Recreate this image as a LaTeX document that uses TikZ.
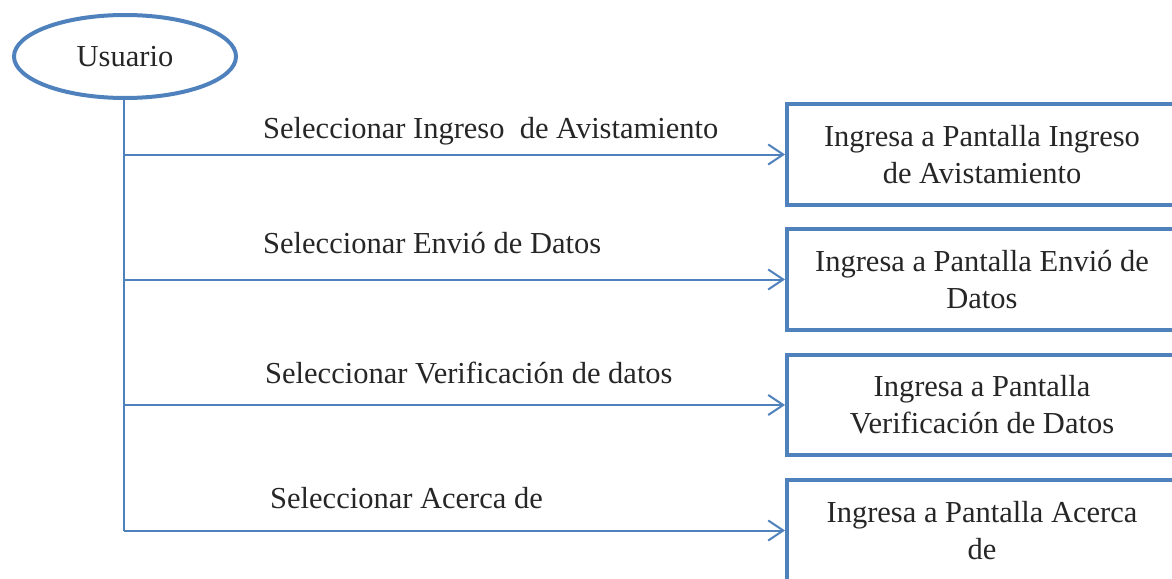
\documentclass[tikz,border=0pt]{standalone}
\usepackage{fontspec}
\setmainfont{Liberation Serif}
\usetikzlibrary{arrows.meta,shapes.geometric}
\definecolor{diagblue}{RGB}{79,129,189}
\definecolor{txt}{RGB}{38,38,38}
\tikzset{
  actor/.style={ellipse, draw=diagblue, line width=4pt, minimum width=222pt, minimum height=83pt, inner sep=0pt, text=txt, font=\fontsize{30.5}{37}\selectfont},
  screen/.style={rectangle, draw=diagblue, line width=4pt, minimum width=390pt, minimum height=101pt, inner sep=0pt, align=center, text=txt, font=\fontsize{30.5}{37}\selectfont},
  conn/.style={draw=diagblue, line width=2pt},
  flow/.style={conn, -{Straight Barb[length=15pt,width=20pt]}},
  lbl/.style={anchor=base west, inner sep=0pt, text=txt, font=\fontsize{30.5}{37}\selectfont}
}
\begin{document}
\begin{tikzpicture}[x=1pt, y=-1pt]
\useasboundingbox (0,0) rectangle (1172,578);
\clip (0,0) rectangle (1172,578);
\node[actor] (u) at (125,56.5) {Usuario};
\node[screen] (b1) at (982,154.5) {Ingresa a Pantalla Ingreso\\de Avistamiento};
\node[screen] (b2) at (982,279.5) {Ingresa a Pantalla Envió de\\Datos};
\node[screen, minimum height=100pt] (b3) at (982,405) {Ingresa a Pantalla\\Verificación de Datos};
\node[screen] (b4) at (982,530.5) {Ingresa a Pantalla Acerca\\de};
\coordinate (j1) at (124,154.5);
\coordinate (j2) at (124,279.5);
\coordinate (j3) at (124,405);
\coordinate (j4) at (124,530.5);
\draw[conn] (u.south -| j1) -- (j4);
\draw[flow] (j1) -- (b1.west);
\draw[flow] (j2) -- (b2.west);
\draw[flow] (j3) -- (b3.west);
\draw[flow] (j4) -- (b4.west);
\node[lbl] (l1) at (263,138) {Seleccionar Ingreso\ \ de Avistamiento};
\node[lbl] (l2) at (263,253) {Seleccionar Envió de Datos};
\node[lbl] (l3) at (265,383) {Seleccionar Verificación de datos};
\node[lbl] (l4) at (270,508) {Seleccionar Acerca de};
\end{tikzpicture}
\end{document}
